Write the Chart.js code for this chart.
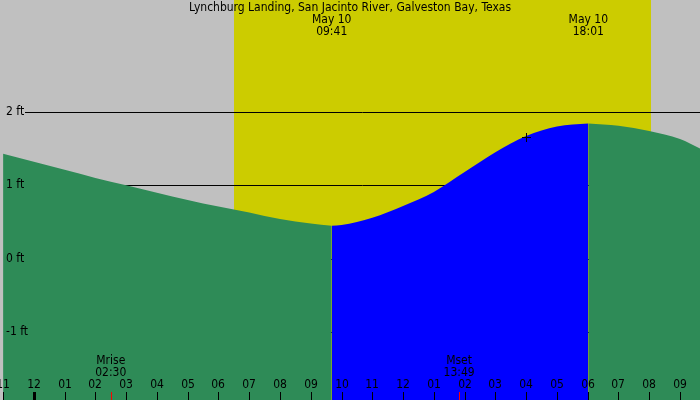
<!DOCTYPE html>
<html><head><meta charset="utf-8">
<script src="https://cdn.jsdelivr.net/npm/chart.js@4"></script>
<style>body{margin:0;background:#c0c0c0}canvas{display:block}</style>
</head><body><canvas id="c" width="700" height="400"></canvas>
<script>
// hours since 23:00 on May 9
const hours = [0,1,2,3,4,5,6,7,8,9,10,10.68,11,12,13,14,15,16,17,18,19.02,20,21,22,22.65];
const heights = [1.43,1.32,1.21,1.10,1.0,0.90,0.80,0.71,0.63,0.54,0.48,0.45,0.46,0.56,0.72,0.91,1.18,1.45,1.67,1.80,1.84,1.81,1.74,1.63,1.50];
const hourLabels = ['11','12','01','02','03','04','05','06','07','08','09','10','11','12','01','02','03','04','05','06','07','08','09'];
const yTicks = [2,1,0,-1];
const yTickLabels = ['2 ft','1 ft','0 ft','-1 ft'];
const lowTime = 10.68, highTime = 19.02;
const sunrise = 7.5, sunset = 21.06;
const moonrise = 3.5, moonset = 14.82;
const title = 'Lynchburg Landing, San Jacinto River, Galveston Bay, Texas';
const events = [{t:lowTime,d:'May 10',s:'09:41'},{t:highTime,d:'May 10',s:'18:01'}];
const moons = [{t:moonrise,a:'Mrise',b:'02:30'},{t:moonset,a:'Mset',b:'13:49'}];

function pts(a,b){const r=[];hours.forEach((h,i)=>{if(h>=a&&h<=b)r.push({x:h,y:heights[i]});});return r;}
const FONT='12px "DejaVu Sans Condensed","DejaVu Sans",sans-serif';
const mk=(data,color)=>({data,borderWidth:0,borderColor:color,backgroundColor:color,fill:'start',pointRadius:0,tension:0.4,cubicInterpolationMode:'monotone'});

const plugin={id:'tide',
 beforeDatasetsDraw(c){const {ctx}=c,x=c.scales.x,y=c.scales.y;
  ctx.save();ctx.fillStyle='#c0c0c0';ctx.fillRect(0,0,700,400);
  ctx.fillStyle='#cccc00';ctx.fillRect(Math.round(x.getPixelForValue(sunrise)),0,Math.round(x.getPixelForValue(sunset)-x.getPixelForValue(sunrise)),400);
  ctx.strokeStyle='#000';ctx.lineWidth=1;
  yTicks.forEach(v=>{const p=Math.round(y.getPixelForValue(v))+0.5;ctx.beginPath();ctx.moveTo(25,p);ctx.lineTo(700,p);ctx.stroke();});
  ctx.restore();},
 afterDatasetsDraw(c){const {ctx}=c,x=c.scales.x,y=c.scales.y;
  ctx.save();ctx.font=FONT;ctx.fillStyle='#000';ctx.textAlign='center';ctx.textBaseline='middle';
  ctx.fillText(title,350,8);
  events.forEach(e=>{const p=x.getPixelForValue(e.t);ctx.fillText(e.d,p,20);ctx.fillText(e.s,p,32);});
  moons.forEach(m=>{const p=x.getPixelForValue(m.t);ctx.fillText(m.a,p,361);ctx.fillText(m.b,p,373);
   ctx.strokeStyle='#ff0000';ctx.beginPath();ctx.moveTo(Math.round(p)+0.5,392);ctx.lineTo(Math.round(p)+0.5,400);ctx.stroke();});
  ctx.strokeStyle='#000';
  hourLabels.forEach((l,i)=>{const p=Math.round(x.getPixelForValue(i));ctx.fillText(l,p,385);
   ctx.lineWidth=(i===1)?3:1;ctx.beginPath();ctx.moveTo(p+0.5,392);ctx.lineTo(p+0.5,400);ctx.stroke();});
  ctx.lineWidth=1;ctx.textAlign='left';
  yTicks.forEach((v,i)=>ctx.fillText(yTickLabels[i],6,y.getPixelForValue(v)));
  const px=Math.round(x.getPixelForValue(17)),py=Math.round(y.getPixelForValue(1.66));
  ctx.beginPath();ctx.moveTo(px-4,py+0.5);ctx.lineTo(px+5,py+0.5);ctx.moveTo(px+0.5,py-4);ctx.lineTo(px+0.5,py+5);ctx.stroke();
  ctx.restore();}
};

new Chart(document.getElementById('c'),{type:'line',
 data:{datasets:[mk(pts(-1,lowTime),'#2e8b57'),mk(pts(lowTime,highTime),'#0000ff'),mk(pts(highTime,30),'#2e8b57')]},
 options:{responsive:false,animation:false,devicePixelRatio:1,layout:{padding:0},
  plugins:{legend:{display:false},tooltip:{enabled:false}},
  scales:{x:{type:'linear',min:-0.1,max:22.65,display:false},y:{min:-1.92,max:3.52,display:false}}},
 plugins:[plugin]});
</script></body></html>
